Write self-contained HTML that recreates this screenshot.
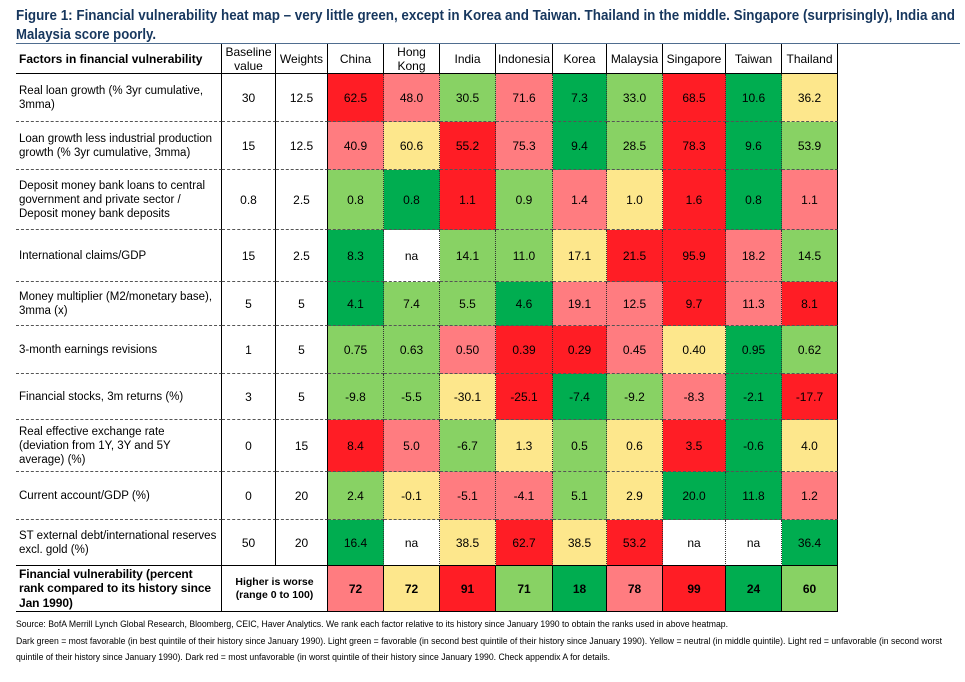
<!DOCTYPE html>
<html><head><meta charset="utf-8">
<style>
*{margin:0;padding:0;box-sizing:border-box}
body{width:965px;height:682px;background:#fff;font-family:"Liberation Sans",Arial,sans-serif;position:relative;overflow:hidden;color:#000}
.tline{position:absolute;left:16px;top:43px;width:944px;height:0;border-top:1.5px solid #4f6d8f}
.grid{position:absolute;left:16px;top:44px;display:grid;grid-template-columns:206px 54px 52px 56px 56px 56px 57px 54px 56px 63px 56px 56px;grid-template-rows:30px 48px 48px 60px 52px 44px 48px 46px 52px 48px 46px 46px}
.grid>div{display:flex;align-items:center;justify-content:center;text-align:center;font-size:12px;line-height:14px;border-bottom:1px dashed #555}
.grid>div.l{justify-content:flex-start;text-align:left;padding-left:3px;font-size:11.5px;line-height:14px}
.grid>div.h{border-bottom:1px solid #000}
.grid>div.s{border-bottom:1.5px solid #000;font-weight:bold}
.grid>div.lv{border-right:1px solid #000}
.grid>div.dv{border-right:1px dotted #333}
.grid>div.rv{border-right:1.5px solid #000}
.R{background:#ff1d25}.r{background:#ff7c80}.Y{background:#fde78c}.g{background:#88d264}.G{background:#00ad50}.W{background:#fff}
</style></head><body>
<svg style="position:absolute;left:0;top:0" width="965" height="44">
<g font-family="Liberation Sans, Arial, sans-serif" font-size="14.5" font-weight="bold" fill="#17375e">
<text x="16" y="20" textLength="939" lengthAdjust="spacingAndGlyphs">Figure 1: Financial vulnerability heat map – very little green, except in Korea and Taiwan. Thailand in the middle. Singapore (surprisingly), India and</text>
<text x="16" y="39" textLength="140" lengthAdjust="spacingAndGlyphs">Malaysia score poorly.</text>
</g></svg>
<div class="tline"></div>
<div class="grid">
<div class="l h lv" style="font-weight:bold;font-size:12px">Factors in financial vulnerability</div>
<div class="h lv">Baseline<br>value</div>
<div class="h lv">Weights</div>
<div class="h lv">China</div>
<div class="h lv">Hong<br>Kong</div>
<div class="h lv">India</div>
<div class="h lv">Indonesia</div>
<div class="h lv">Korea</div>
<div class="h lv">Malaysia</div>
<div class="h lv">Singapore</div>
<div class="h lv">Taiwan</div>
<div class="h rv">Thailand</div>

<div class="l lv">Real loan growth (% 3yr cumulative,<br>3mma)</div><div class="lv">30</div><div class="lv">12.5</div>
<div class="R dv">62.5</div><div class="r dv">48.0</div><div class="g dv">30.5</div><div class="r dv">71.6</div><div class="G dv">7.3</div><div class="g dv">33.0</div><div class="R dv">68.5</div><div class="G dv">10.6</div><div class="Y rv">36.2</div>

<div class="l lv">Loan growth less industrial production<br>growth (% 3yr cumulative, 3mma)</div><div class="lv">15</div><div class="lv">12.5</div>
<div class="r dv">40.9</div><div class="Y dv">60.6</div><div class="R dv">55.2</div><div class="r dv">75.3</div><div class="G dv">9.4</div><div class="g dv">28.5</div><div class="R dv">78.3</div><div class="G dv">9.6</div><div class="g rv">53.9</div>

<div class="l lv">Deposit money bank loans to central<br>government and private sector /<br>Deposit money bank deposits</div><div class="lv">0.8</div><div class="lv">2.5</div>
<div class="g dv">0.8</div><div class="G dv">0.8</div><div class="R dv">1.1</div><div class="g dv">0.9</div><div class="r dv">1.4</div><div class="Y dv">1.0</div><div class="R dv">1.6</div><div class="G dv">0.8</div><div class="r rv">1.1</div>

<div class="l lv">International claims/GDP</div><div class="lv">15</div><div class="lv">2.5</div>
<div class="G dv">8.3</div><div class="W dv">na</div><div class="g dv">14.1</div><div class="g dv">11.0</div><div class="Y dv">17.1</div><div class="R dv">21.5</div><div class="R dv">95.9</div><div class="r dv">18.2</div><div class="g rv">14.5</div>

<div class="l lv">Money multiplier (M2/monetary base),<br>3mma (x)</div><div class="lv">5</div><div class="lv">5</div>
<div class="G dv">4.1</div><div class="g dv">7.4</div><div class="g dv">5.5</div><div class="G dv">4.6</div><div class="r dv">19.1</div><div class="r dv">12.5</div><div class="R dv">9.7</div><div class="r dv">11.3</div><div class="R rv">8.1</div>

<div class="l lv">3-month earnings revisions</div><div class="lv">1</div><div class="lv">5</div>
<div class="g dv">0.75</div><div class="g dv">0.63</div><div class="r dv">0.50</div><div class="R dv">0.39</div><div class="R dv">0.29</div><div class="r dv">0.45</div><div class="Y dv">0.40</div><div class="G dv">0.95</div><div class="g rv">0.62</div>

<div class="l lv">Financial stocks, 3m returns (%)</div><div class="lv">3</div><div class="lv">5</div>
<div class="g dv">-9.8</div><div class="g dv">-5.5</div><div class="Y dv">-30.1</div><div class="R dv">-25.1</div><div class="G dv">-7.4</div><div class="g dv">-9.2</div><div class="r dv">-8.3</div><div class="G dv">-2.1</div><div class="R rv">-17.7</div>

<div class="l lv">Real effective exchange rate<br>(deviation from 1Y, 3Y and 5Y<br>average) (%)</div><div class="lv">0</div><div class="lv">15</div>
<div class="R dv">8.4</div><div class="r dv">5.0</div><div class="g dv">-6.7</div><div class="Y dv">1.3</div><div class="g dv">0.5</div><div class="Y dv">0.6</div><div class="R dv">3.5</div><div class="G dv">-0.6</div><div class="Y rv">4.0</div>

<div class="l lv">Current account/GDP (%)</div><div class="lv">0</div><div class="lv">20</div>
<div class="g dv">2.4</div><div class="Y dv">-0.1</div><div class="r dv">-5.1</div><div class="r dv">-4.1</div><div class="g dv">5.1</div><div class="Y dv">2.9</div><div class="G dv">20.0</div><div class="G dv">11.8</div><div class="r rv">1.2</div>

<div class="l lv h">ST external debt/international reserves<br>excl. gold (%)</div><div class="lv h">50</div><div class="lv h">20</div>
<div class="G dv h">16.4</div><div class="W dv h">na</div><div class="Y dv h">38.5</div><div class="R dv h">62.7</div><div class="Y dv h">38.5</div><div class="R dv h">53.2</div><div class="W dv h">na</div><div class="W dv h">na</div><div class="G rv h">36.4</div>

<div class="l s lv" style="font-size:12px;line-height:14.5px;white-space:nowrap;letter-spacing:-0.1px">Financial vulnerability (percent<br>rank compared to its history since<br>Jan 1990)</div>
<div class="s lv" style="grid-column:span 2;font-size:10.5px;line-height:13px">Higher is worse<br>(range 0 to 100)</div>
<div class="r s lv">72</div><div class="Y s lv">72</div><div class="R s lv">91</div><div class="g s lv">71</div><div class="G s lv">18</div><div class="r s lv">78</div><div class="R s lv">99</div><div class="G s lv">24</div><div class="g s rv">60</div>
</div>
<svg style="position:absolute;left:0;top:612px" width="965" height="60">
<g font-family="Liberation Sans, Arial, sans-serif" font-size="9" fill="#000">
<text x="16" y="15" textLength="712" lengthAdjust="spacingAndGlyphs">Source: BofA Merrill Lynch Global Research, Bloomberg, CEIC, Haver Analytics. We rank each factor relative to its history since January 1990 to obtain the ranks used in above heatmap.</text>
<text x="16" y="32" textLength="926" lengthAdjust="spacingAndGlyphs">Dark green = most favorable (in best quintile of their history since January 1990). Light green = favorable (in second best quintile of their history since January 1990). Yellow = neutral (in middle quintile). Light red = unfavorable (in second worst</text>
<text x="16" y="48" textLength="594" lengthAdjust="spacingAndGlyphs">quintile of their history since January 1990). Dark red = most unfavorable (in worst quintile of their history since January 1990. Check appendix A for details.</text>
</g></svg>
</body></html>
